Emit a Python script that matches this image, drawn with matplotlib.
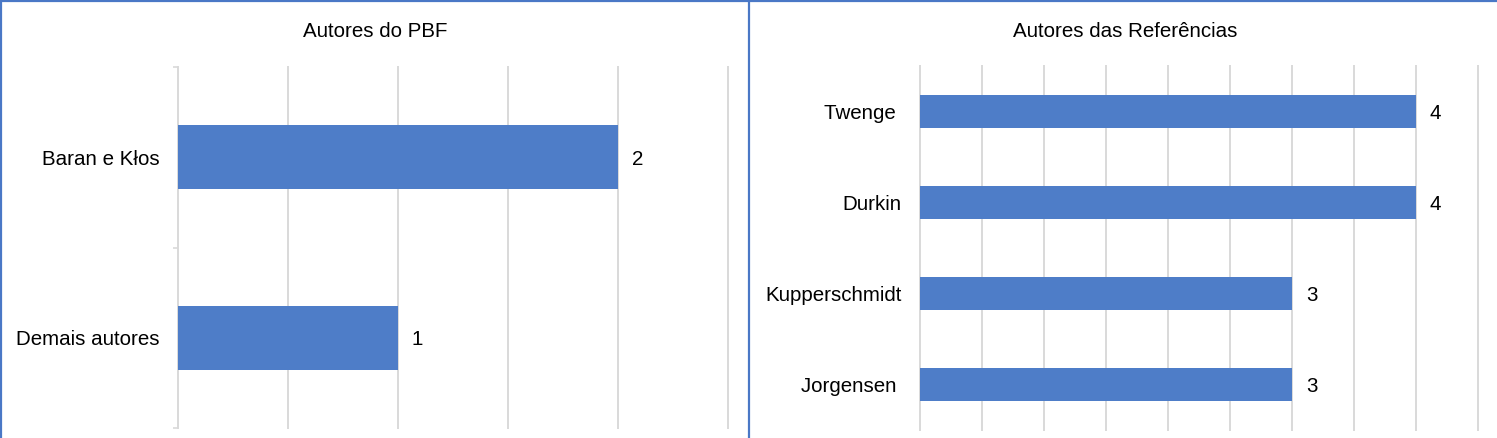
import matplotlib
matplotlib.use("Agg")
import matplotlib.pyplot as plt
from matplotlib.lines import Line2D

plt.rcParams['font.family'] = ['Liberation Sans', 'DejaVu Sans']

# Data
left_title = "Autores do PBF"
left_cats = ["Baran e Kłos", "Demais autores"]
left_vals = [2, 1]

right_title = "Autores das Referências"
right_cats = ["Twenge ", "Durkin", "Kupperschmidt", "Jorgensen "]
right_vals = [4, 4, 3, 3]

W, H = 1497, 438
fig = plt.figure(figsize=(W / 100, H / 100), dpi=100)

BAR = "#4E7DC8"
GRID = "#D9D9D9"
BORDER = "#4A78C6"
FS = 14.8


def px_rect(x0, y0, x1, y1):
    return [x0 / W, (H - y1) / H, (x1 - x0) / W, (y1 - y0) / H]


def draw(ax, cats, vals, xmax, spine):
    y = list(range(len(cats)))
    bars = ax.barh(y, vals, height=0.355, color=BAR, zorder=3)
    ax.set_ylim(len(cats) - 0.5, -0.5)
    ax.set_xlim(0, xmax)
    ticks = [0.5 * i for i in range(int(xmax / 0.5) + 1)]
    for t in ticks:
        if spine and t == 0:
            continue
        ax.axvline(t, color=GRID, lw=1.4, zorder=1, clip_on=False)
    for s in ax.spines.values():
        s.set_visible(False)
    ax.set_xticks([])
    ax.set_yticks(y)
    ax.set_yticklabels(cats, fontsize=FS, color="#000000")
    if spine:
        ax.spines['left'].set_visible(True)
        ax.spines['left'].set_color(GRID)
        ax.spines['left'].set_linewidth(1.4)
        ax.tick_params(axis='y', length=0, pad=13)
        ax.set_yticks([i - 0.5 for i in range(len(cats) + 1)], minor=True)
        ax.tick_params(axis='y', which='minor', length=3.6, width=1.2, color=GRID)
    else:
        ax.tick_params(axis='y', length=0, pad=13)
    labs = ax.bar_label(bars, labels=[str(v) for v in vals], padding=10, fontsize=FS)
    for t in labs:
        t.set_va('center_baseline')
    ax.set_facecolor("none")


axL = fig.add_axes(px_rect(178, 67, 728, 428))
draw(axL, left_cats, left_vals, 2.5, True)
axR = fig.add_axes(px_rect(920, 66, 1478, 430))
draw(axR, right_cats, right_vals, 4.5, False)

fig.text(375.5 / W, (H - 37) / H, left_title, ha='center', va='baseline', fontsize=FS)
fig.text(1125 / W, (H - 37) / H, right_title, ha='center', va='baseline', fontsize=FS)

# panel borders
fig.add_artist(Line2D([0, 1], [1 - 1 / H, 1 - 1 / H], color=BORDER, lw=1.6, transform=fig.transFigure))
fig.add_artist(Line2D([1 / W, 1 / W], [0, 1], color=BORDER, lw=1.6, transform=fig.transFigure))
fig.add_artist(Line2D([748.5 / W, 748.5 / W], [0, 1], color=BORDER, lw=1.6, transform=fig.transFigure))

fig.savefig("out.png", dpi=100, facecolor="white")
